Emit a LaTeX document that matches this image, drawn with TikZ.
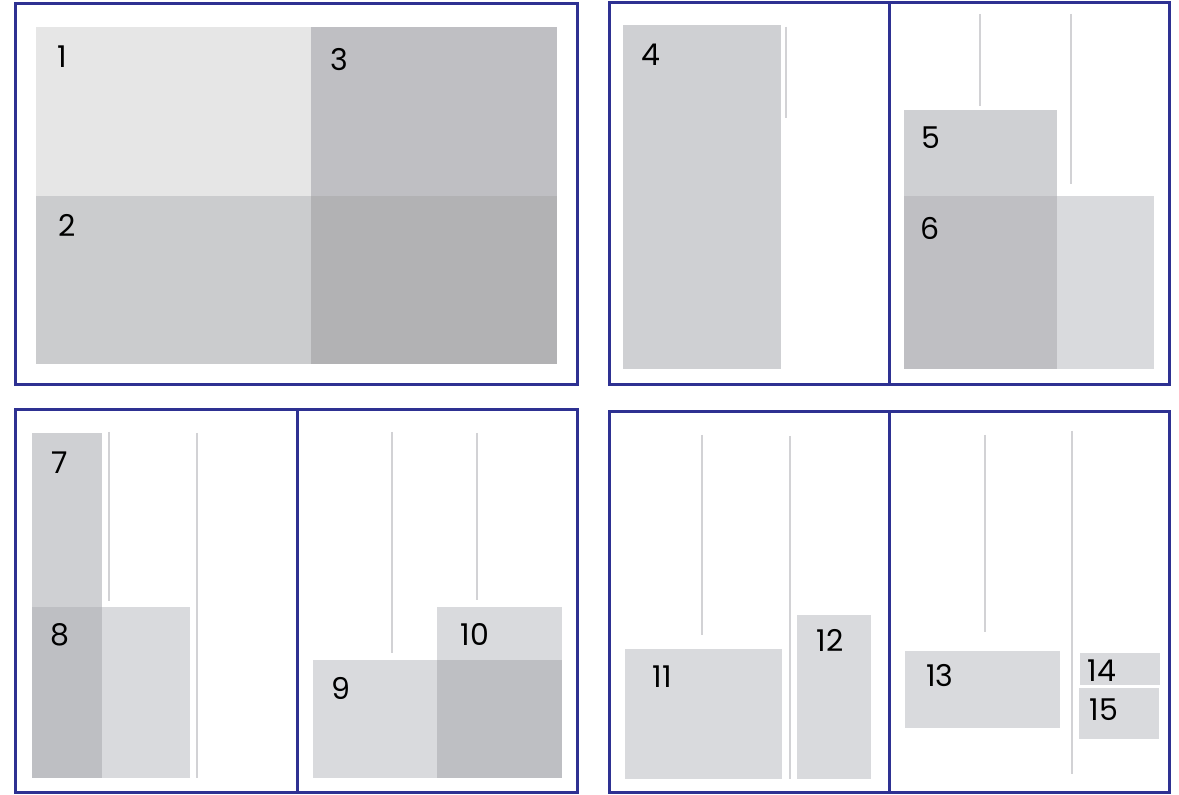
\documentclass[tikz,border=0pt]{standalone}
\usepackage{fontspec}
\setmainfont{Poppins}
\usepackage{tikz}
\usepackage{xcolor}
\definecolor{FrameBlue}{HTML}{2E3192}
\definecolor{GreyA}{HTML}{E6E6E6}
\definecolor{GreyB}{HTML}{CBCCCE}
\definecolor{GreyC}{HTML}{BFBFC3}
\definecolor{GreyD}{HTML}{B2B2B4}
\definecolor{GreyMid}{HTML}{CFD0D3}
\definecolor{GreyDark}{HTML}{BEBFC3}
\definecolor{GreyLight}{HTML}{D9DADD}
\definecolor{GuideGrey}{HTML}{D2D2D5}
\tikzset{
  pframe/.style={draw=FrameBlue, line width=1.5pt},
  pguide/.style={draw=GuideGrey, line width=0.6pt},
  plabel/.style={inner sep=0pt, font=\fontsize{15}{15}\selectfont}
}

\begin{document}
\begin{tikzpicture}[x=0.5pt, y=-0.5pt]
  \useasboundingbox (0,0) rectangle (1179,795);
  % top left
  \fill[GreyA] (36,27) rectangle (311,196);
  \fill[GreyC] (311,27) rectangle (557,196);
  \fill[GreyB] (36,196) rectangle (311,364);
  \fill[GreyD] (311,196) rectangle (557,364);
  \node[plabel] (l1) at (62,57) {1};
  \node[plabel] (l2) at (67,225) {2};
  \node[plabel] (l3) at (339,60) {3};
  \draw[pframe] (15,4) rectangle (577,385);

  % top right
  \fill[GreyMid] (623,25) rectangle (781,369);
  \draw[pguide] (786,27) -- (786,118);
  \node[plabel] (l4) at (651,55) {4};
  \draw[pguide] (980,14) -- (980,106);
  \draw[pguide] (1071,14) -- (1071,184);
  \fill[GreyMid] (904,110) rectangle (1057,196);
  \fill[GreyC] (904,196) rectangle (1057,369);
  \fill[GreyLight] (1057,196) rectangle (1154,369);
  \node[plabel] (l5) at (931,138) {5};
  \node[plabel] (l6) at (930,228) {6};
  \draw[pframe] (609,3) rectangle (1169,385);
  \draw[pframe] (889,3) -- (889,385);

  % bottom left
  \fill[GreyMid] (32,433) rectangle (102,607);
  \fill[GreyDark] (32,607) rectangle (102,778);
  \fill[GreyLight] (102,607) rectangle (190,778);
  \draw[pguide] (109,432) -- (109,601);
  \draw[pguide] (197,433) -- (197,778);
  \node[plabel] (l7) at (60,463) {7};
  \node[plabel] (l8) at (60,635) {8};
  \draw[pguide] (392,432) -- (392,653);
  \draw[pguide] (477,433) -- (477,600);
  \fill[GreyLight] (437,607) rectangle (562,660);
  \fill[GreyLight] (313,660) rectangle (437,778);
  \fill[GreyDark] (437,660) rectangle (562,778);
  \node[plabel] (l10) at (475,634) {10};
  \node[plabel] (l9) at (341,688) {9};
  \draw[pframe] (15,410) rectangle (577,793);
  \draw[pframe] (297,410) -- (297,793);

  % bottom right
  \draw[pguide] (702,435) -- (702,635);
  \draw[pguide] (790,436) -- (790,779);
  \fill[GreyLight] (625,649) rectangle (782,779);
  \fill[GreyLight] (797,615) rectangle (871,779);
  \node[plabel] (l11) at (662,677) {11};
  \node[plabel] (l12) at (830,640) {12};
  \draw[pguide] (985,435) -- (985,632);
  \draw[pguide] (1072,431) -- (1072,774);
  \fill[GreyLight] (905,651) rectangle (1060,728);
  \fill[GreyLight] (1080,653) rectangle (1160,685);
  \fill[GreyLight] (1079,688) rectangle (1159,739);
  \node[plabel] (l13) at (940,676) {13};
  \node[plabel] (l14) at (1102,671) {14};
  \node[plabel] (l15) at (1104,710) {15};
  \draw[pframe] (609,412) rectangle (1169,793);
  \draw[pframe] (889,412) -- (889,793);
\end{tikzpicture}
\end{document}
